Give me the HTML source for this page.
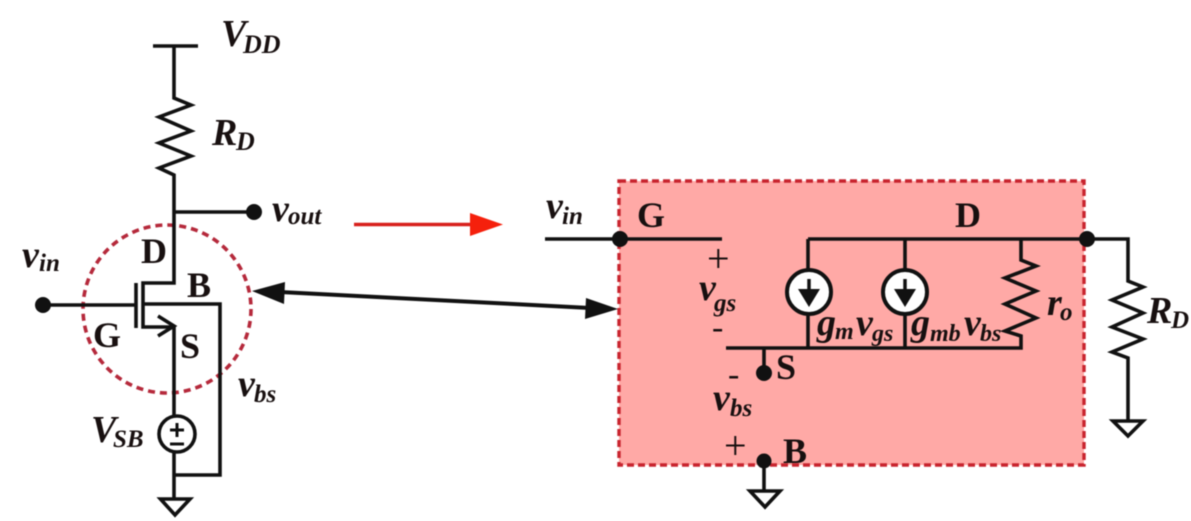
<!DOCTYPE html>
<html><head><meta charset="utf-8"><style>
html,body{margin:0;padding:0;background:#fff;width:1191px;height:521px;overflow:hidden}
svg{display:block;filter:blur(.6px)}
text{font-family:"Liberation Serif",serif;font-weight:bold;fill:#181010}
.i{font-style:italic}
.p{font-weight:normal}
.w{fill:none;stroke:#111;stroke-width:3.6;stroke-linejoin:miter}
</style></head><body>
<svg width="1191" height="521" viewBox="0 0 1191 521" xmlns="http://www.w3.org/2000/svg">
<rect x="619" y="181" width="465" height="284" fill="#ffa9a6" stroke="#c8242e" stroke-width="3.400" stroke-dasharray="7 4"/>
<circle cx="167" cy="309" r="84" fill="none" stroke="#b5293b" stroke-width="3.600" stroke-dasharray="7 5"/>

<path class="w" d="M153 46H198M174 46V98L191 105L159 117L191 131L159 143L191 156L159 168L174 175V283H143V327H174M174 327V415M136 283V328M43 305H136M143 304H220V475H174M174 452V499M174 212H253"/>
<path class="w" d="M158 317L174 327L158 337" transform="translate(0,-1)"/>
<circle cx="177" cy="434" r="18" fill="#fff" stroke="#111" stroke-width="3.600"/>
<path class="w" d="M177 423V437M170 430H184M170 444H184" style="stroke-width:3"/>
<path class="w" d="M160.500 499H190L175 515Z"/>
<circle cx="254" cy="212" r="8" fill="#111"/>
<circle cx="43" cy="305" r="8" fill="#111"/>

<path class="w" d="M545 239H722M808 239H1128V281L1143 287L1112 300L1143 313L1112 327L1143 339L1112 352L1128 358V421M808 239V348M905 239V348M726 348H1021V336L1005 331L1036 318L1005 304L1036 291L1005 278L1036 266L1021 260V239M764 348V373M764 461V492"/>
<circle cx="620" cy="239" r="8" fill="#111"/>
<circle cx="1087" cy="239" r="8" fill="#111"/>
<circle cx="764" cy="373" r="8" fill="#111"/>
<circle cx="764" cy="461" r="7.500" fill="#111"/>
<circle cx="809" cy="292" r="22" fill="#fff" stroke="#111" stroke-width="4"/>
<circle cx="905" cy="292" r="22" fill="#fff" stroke="#111" stroke-width="4"/>
<path d="M809 279V292" stroke="#111" stroke-width="3.500"/><path d="M798 289H820L809 307Z" fill="#111"/>
<path d="M905 279V292" stroke="#111" stroke-width="3.500"/><path d="M894 289H916L905 307Z" fill="#111"/>
<path class="w" d="M1113 421H1143L1128 436Z"/>
<path class="w" d="M750 491H780L765 507Z"/>

<path d="M354 224.500H472" stroke="#d8201c" stroke-width="3.500"/>
<path d="M470 213L503 224.500L470 236Z" fill="#f5200c"/>
<path d="M280 292L590 308" stroke="#111" stroke-width="4"/>
<path d="M252 291L285 282L284 304Z" fill="#111"/>
<path d="M618 309L586 298L585 319Z" fill="#111"/>

<text class="i" x="221" y="46" font-size="38">V</text><text class="i" x="243" y="53" font-size="26">DD</text>
<text class="i" x="212" y="145" font-size="38">R</text><text class="i" x="236" y="150" font-size="26">D</text>
<text class="i" x="272" y="221" font-size="38">v</text><text class="i" x="288" y="224" font-size="25">out</text>
<text class="i" x="22" y="267" font-size="38">v</text><text class="i" x="39" y="271" font-size="25">in</text>
<text x="141" y="263" font-size="36">D</text>
<text x="187" y="297" font-size="36">B</text>
<text x="93" y="347" font-size="36">G</text>
<text x="180" y="358" font-size="36">S</text>
<text class="i" x="238" y="396" font-size="38">v</text><text class="i" x="254" y="402" font-size="25">bs</text>
<text class="i" x="91" y="442" font-size="38">V</text><text class="i" x="113" y="447" font-size="25">SB</text>
<text class="i" x="546" y="218" font-size="38">v</text><text class="i" x="562" y="224" font-size="25">in</text>
<text x="637" y="227" font-size="36">G</text>
<text x="955" y="227" font-size="36">D</text>
<text class="p" x="707" y="272" font-size="40">+</text>
<text class="i" x="699" y="300" font-size="38">v</text><text class="i" x="714" y="311" font-size="25">gs</text>
<text class="p" x="712" y="338" font-size="34">-</text>
<text class="p" x="728" y="385" font-size="34">-</text>
<text x="776" y="379" font-size="36">S</text>
<text class="i" x="713" y="410" font-size="38">v</text><text class="i" x="730" y="416" font-size="25">bs</text>
<text class="p" x="724" y="459" font-size="40">+</text>
<text x="783" y="463" font-size="36">B</text>
<text class="i" x="817" y="335" font-size="38">g</text><text class="i" x="835" y="339" font-size="24">m</text><text class="i" x="856" y="335" font-size="38">v</text><text class="i" x="872" y="341" font-size="24">gs</text>
<text class="i" x="911" y="335" font-size="38">g</text><text class="i" x="930" y="341" font-size="24">mb</text><text class="i" x="964" y="335" font-size="38">v</text><text class="i" x="980" y="341" font-size="24">bs</text>
<text class="i" x="1047" y="315" font-size="38">r</text><text class="i" x="1060" y="320" font-size="25">o</text>
<text class="i" x="1147" y="323" font-size="38">R</text><text class="i" x="1171" y="328" font-size="25">D</text>
</svg>
</body></html>
